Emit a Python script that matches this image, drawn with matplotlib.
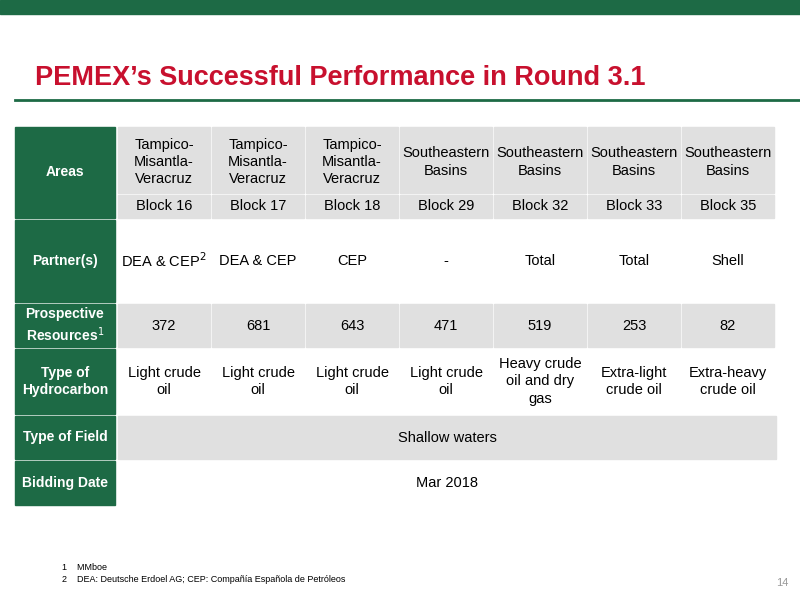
import matplotlib.pyplot as plt
from matplotlib.patches import Rectangle

plt.rcParams['font.family'] = ['Liberation Sans', 'DejaVu Sans']

GREEN = "#1d6a45"
RED = "#c8102e"
GRAY = "#e0e0e0"

row_labels = ["Areas", None, "Partner(s)", "Prospective\nResources$^1$",
              "Type of\nHydrocarbon", "Type of Field", "Bidding Date"]
areas = ["Tampico-\nMisantla-\nVeracruz"] * 3 + ["Southeastern\nBasins"] * 4
blocks = ["Block 16", "Block 17", "Block 18", "Block 29", "Block 32", "Block 33", "Block 35"]
partners = ["DEA & CEP$^2$", "DEA & CEP", "CEP", "-", "Total", "Total", "Shell"]
resources = [372, 681, 643, 471, 519, 253, 82]
hydrocarbon = ["Light crude\noil", "Light crude\noil", "Light crude\noil", "Light crude\noil",
               "Heavy crude\noil and dry\ngas", "Extra-light\ncrude oil", "Extra-heavy\ncrude oil"]
field_type = "Shallow waters"
bidding_date = "Mar 2018"

fig = plt.figure(figsize=(8, 6), dpi=100)
ax = fig.add_axes([0, 0, 1, 1])
ax.set_xlim(0, 800)
ax.set_ylim(600, 0)
ax.axis("off")

# top band and title
ax.add_patch(Rectangle((0, 0), 800, 14, color=GREEN))
ax.text(35, 78, "PEMEX\u2019s Successful Performance in Round 3.1", color=RED,
        fontsize=19.5, fontweight="bold", va="center", ha="left")
ax.plot([15, 800], [100, 100], color=GREEN, lw=2)

# table geometry
col_x = [118, 212, 306, 400, 494, 588, 682, 776]
rows = [(127, 193), (195, 218), (220, 302), (304, 347), (349, 414), (416, 459), (461, 505)]
row_fill = [GRAY, GRAY, "white", GRAY, "white", GRAY, "white"]
gap = 2
fs = 10.5

for i, (y0, y1) in enumerate(rows):
    # green header column
    if i != 1:
        top = y0 if i != 0 else y0
        bot = y1 if i != 0 else rows[1][1]
        ax.add_patch(Rectangle((15, top), 100, bot - top, color=GREEN))
        ax.text(65, (top + bot) / 2, row_labels[i], color="white", fontsize=10,
                fontweight="bold", ha="center", va="center", linespacing=1.3)
    if i in (5, 6):
        ax.add_patch(Rectangle((col_x[0], y0), col_x[-1] - col_x[0], y1 - y0, color=row_fill[i]))
        txt = field_type if i == 5 else bidding_date
        ax.text((col_x[0] + col_x[-1]) / 2, (y0 + y1) / 2, txt, fontsize=fs,
                ha="center", va="center")
        continue
    vals = [areas, blocks, partners, [str(v) for v in resources], hydrocarbon][i]
    for j in range(7):
        x0, x1 = col_x[j], col_x[j + 1] - gap
        ax.add_patch(Rectangle((x0, y0), x1 - x0, y1 - y0, color=row_fill[i]))
        ax.text((x0 + x1) / 2, (y0 + y1) / 2 + (0 if i != 0 else 2), vals[j], fontsize=fs,
                ha="center", va="center", linespacing=1.3)

# footnotes
ax.text(62, 568, "1    MMboe", fontsize=6.5, va="center")
ax.text(62, 580, "2    DEA: Deutsche Erdoel AG; CEP: Compa\u00f1\u00eda Espa\u00f1ola de Petr\u00f3leos",
        fontsize=6.5, va="center")
ax.text(788, 583, "14", fontsize=8, color="#999999", ha="right", va="center")

fig.savefig("out.png", dpi=100)
